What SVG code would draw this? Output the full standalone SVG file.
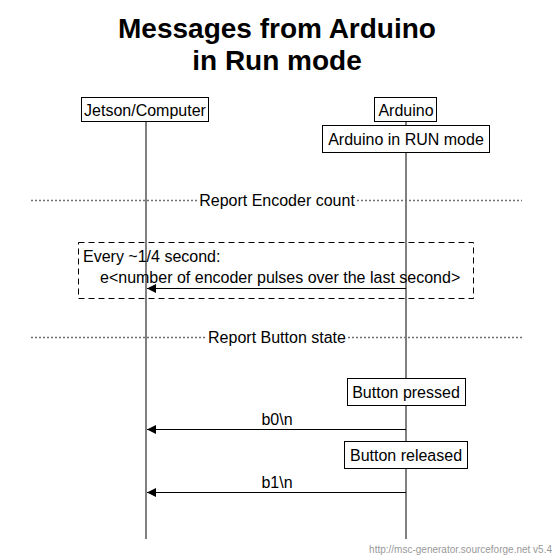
<svg xmlns="http://www.w3.org/2000/svg" width="554" height="559" viewBox="0 0 554 559">
<style>
text{font-family:"Liberation Sans",Arial,sans-serif;font-size:16px;fill:#000}
.title{font-size:28px;font-weight:bold;text-anchor:middle}
.mid{text-anchor:middle}
.box{fill:#fff;stroke:#000;stroke-width:1}
.life{stroke:#808080;stroke-width:2}
.div{stroke:#707070;stroke-width:1.5;stroke-dasharray:2,2}
.msg{stroke:#000;stroke-width:1;fill:none}
.foot{font-size:10px;fill:#999}
</style>
<defs>
<marker id="ah" markerWidth="10" markerHeight="10" refX="9" refY="4.5" orient="auto" markerUnits="userSpaceOnUse">
<path d="M0,0 L9,4.5 L0,9 Z" fill="#000"/>
</marker>
</defs>
<rect width="554" height="559" fill="#fff"/>
<g id="title">
<text class="title" x="277" y="38">Messages from Arduino</text>
<text class="title" x="277" y="70">in Run mode</text>
</g>
<g id="lifelines">
<line class="life" x1="146" y1="121" x2="146" y2="539"/>
<line class="life" x1="406" y1="121" x2="406" y2="539"/>
</g>
<g id="jetson">
<rect class="box" x="81.5" y="97.5" width="127" height="24"/>
<text class="mid" x="145" y="115.5">Jetson/Computer</text>
</g>
<g id="arduino">
<rect class="box" x="374.5" y="97.5" width="62" height="24"/>
<text class="mid" x="406" y="115.5">Arduino</text>
</g>
<g id="runmode">
<rect class="box" x="322.5" y="125.5" width="167" height="27"/>
<text class="mid" x="406" y="145">Arduino in RUN mode</text>
</g>
<g id="div-encoder">
<line class="div" x1="31" y1="200.5" x2="197" y2="200.5"/>
<line class="div" x1="357" y1="200.5" x2="522" y2="200.5"/>
<text class="mid" x="277" y="206">Report Encoder count</text>
</g>
<g id="encoder-box">
<rect x="78.5" y="242.5" width="395" height="56" fill="none" stroke="#000" stroke-width="1" stroke-dasharray="6,4"/>
<text x="83" y="262">Every ~1/4 second:</text>
</g>
<g id="div-button">
<line class="div" x1="31" y1="337.5" x2="206" y2="337.5"/>
<line class="div" x1="348" y1="337.5" x2="522" y2="337.5"/>
<text class="mid" x="277" y="343">Report Button state</text>
</g>
<g id="pressed">
<rect class="box" x="347.5" y="378.5" width="118" height="27"/>
<text class="mid" x="406" y="398">Button pressed</text>
</g>
<g id="released">
<rect class="box" x="344.5" y="441.5" width="123" height="27"/>
<text class="mid" x="406" y="461">Button released</text>
</g>
<g id="connectors">
<line class="msg" x1="406" y1="288.5" x2="147" y2="288.5" marker-end="url(#ah)"/>
<text x="100" y="283">e&lt;number of encoder pulses over the last second&gt;</text>
<line class="msg" x1="406" y1="429.5" x2="147" y2="429.5" marker-end="url(#ah)"/>
<text class="mid" x="277" y="425">b0\n</text>
<line class="msg" x1="406" y1="492.5" x2="147" y2="492.5" marker-end="url(#ah)"/>
<text class="mid" x="277" y="488">b1\n</text>
</g>
<text class="foot" x="552" y="553" text-anchor="end">http://msc-generator.sourceforge.net v5.4</text>
</svg>
